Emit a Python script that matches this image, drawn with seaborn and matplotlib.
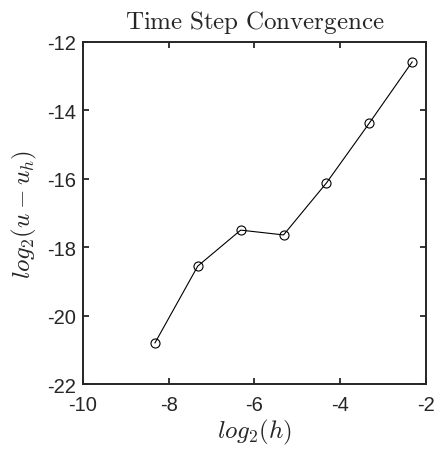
import matplotlib
matplotlib.use("Agg")
import matplotlib.pyplot as plt
import seaborn as sns
import pandas as pd

log2_h = [-8.32, -7.32, -6.32, -5.32, -4.32, -3.32, -2.32]
log2_err = [-20.80, -18.55, -17.50, -17.64, -16.12, -14.37, -12.58]
x_ticks = [-10, -8, -6, -4, -2]
y_ticks = [-22, -20, -18, -16, -14, -12]

sns.set_style("white")
plt.rcParams['font.family'] = ['Liberation Sans', 'DejaVu Sans']
plt.rcParams['mathtext.fontset'] = 'cm'

df = pd.DataFrame({"x": log2_h, "y": log2_err})

fig = plt.figure(figsize=(4.36, 4.52), dpi=100)
ax = fig.add_axes([0.190, 0.148, 0.787, 0.757])
sns.lineplot(data=df, x="x", y="y", ax=ax, color="black", linewidth=0.8,
             marker="o", markersize=6.5, markerfacecolor="none",
             markeredgecolor="black", markeredgewidth=0.8, sort=False)

ax.set_xlim(-10, -2)
ax.set_ylim(-22, -12)
ax.set_xticks(x_ticks)
ax.set_yticks(y_ticks)
ax.set_xticklabels([str(t) for t in x_ticks])
ax.set_yticklabels([str(t) for t in y_ticks])
ax.tick_params(direction="in", length=4, width=1.3, color="#262626",
               labelsize=14.5, labelcolor="#262626", top=True, right=True,
               bottom=True, left=True)
ax.tick_params(axis="x", pad=8)
ax.tick_params(axis="y", pad=5)
for s in ax.spines.values():
    s.set_visible(True)
    s.set_linewidth(1.4)
    s.set_color("#262626")

ax.set_xlabel(r"$log_2(h)$", fontsize=18, labelpad=2)
ax.set_ylabel(r"$log_2(u-u_h)$", fontsize=18, labelpad=6)
ax.set_title(r"$\mathrm{Time\ Step\ Convergence}$", fontsize=18, pad=10)

fig.savefig("out.png", dpi=100)
